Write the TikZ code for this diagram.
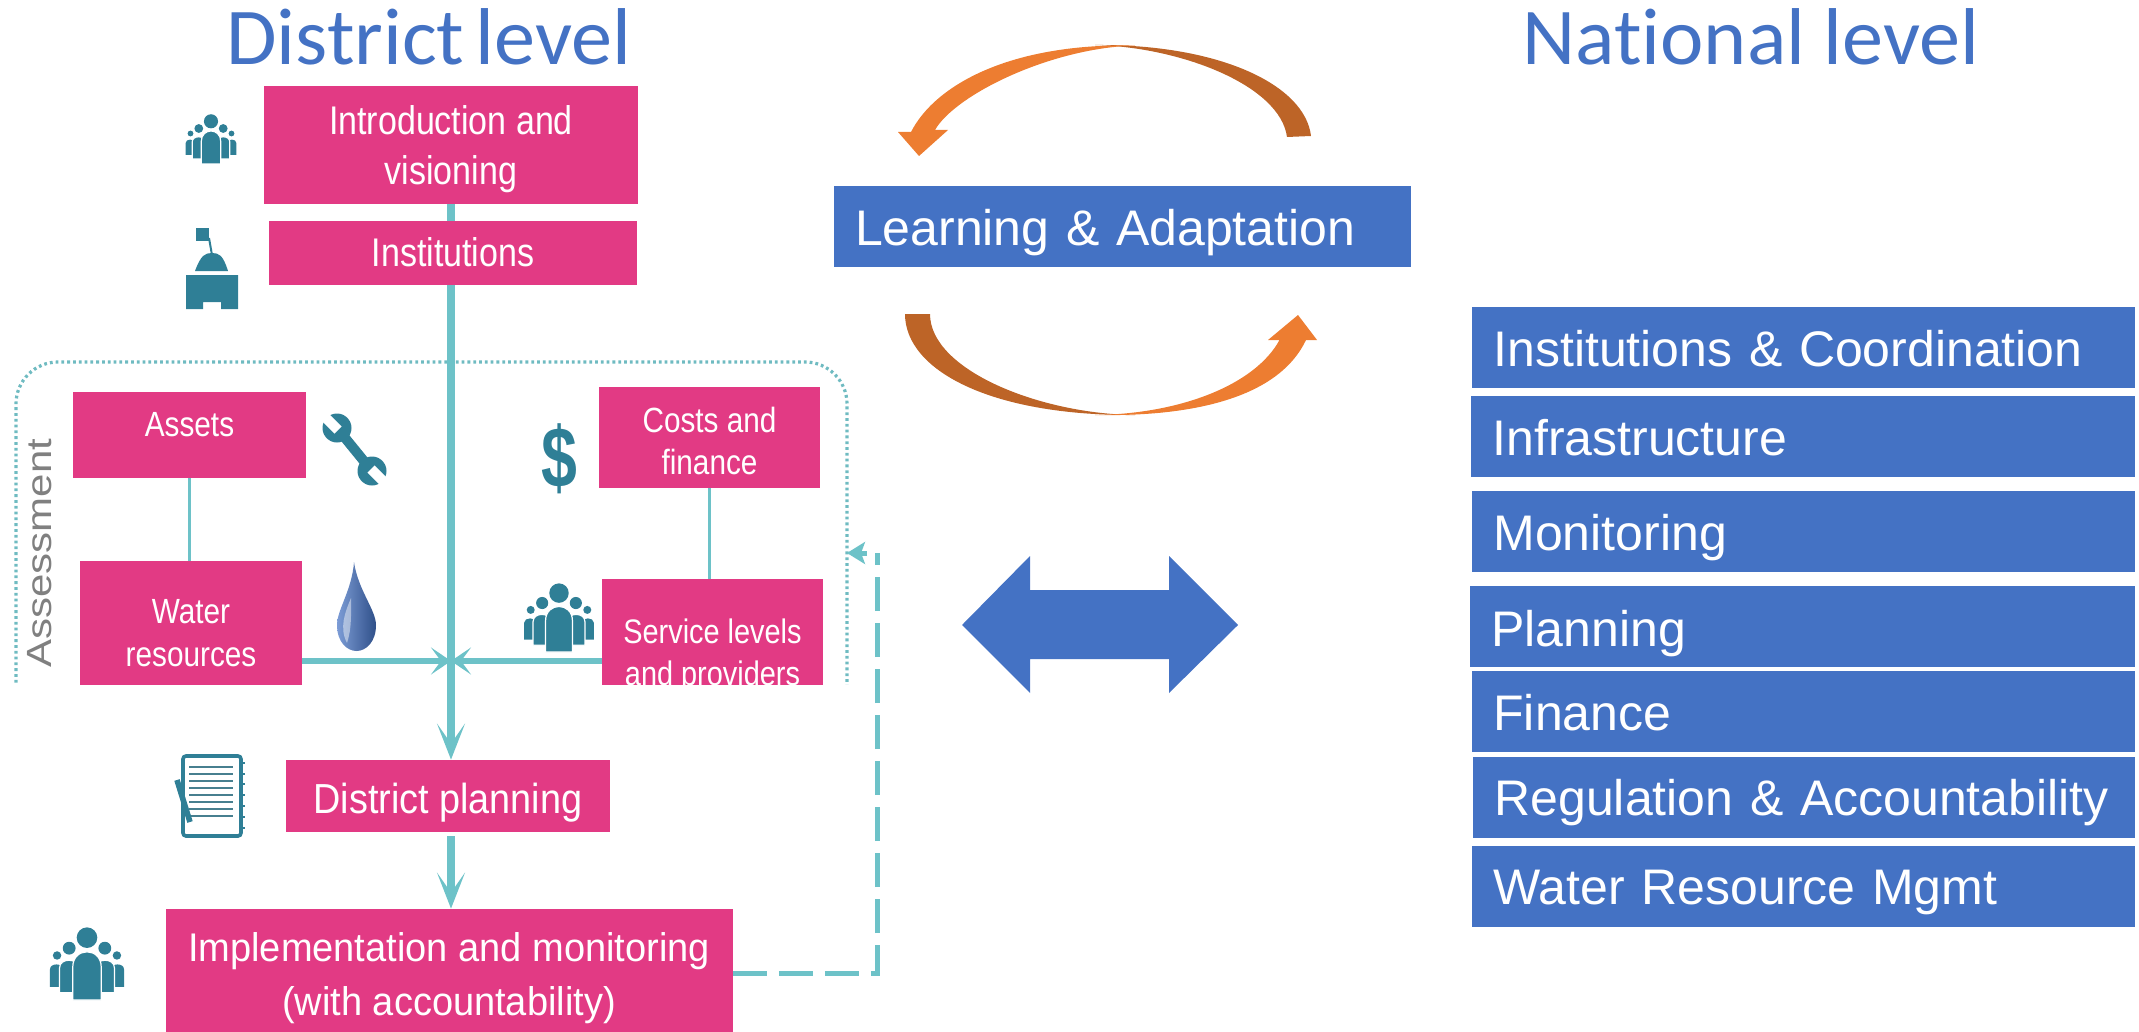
\documentclass[tikz,border=0pt]{standalone}
\usepackage{fontspec}
\usetikzlibrary{arrows.meta}
\setmainfont{Liberation Sans}
\newfontfamily\titlefont[Ligatures=NoCommon,FakeStretch=1.02]{Carlito}
\newfontfamily\pinknarrow[FakeStretch=0.85]{Liberation Sans}
\newfontfamily\pinkmid[FakeStretch=0.9]{Liberation Sans}
\newfontfamily\pinkwide[FakeStretch=0.95]{Liberation Sans}
\newfontfamily\sidefont[FakeStretch=1.2]{Liberation Sans}
\newfontfamily\dollarfont[FakeStretch=0.75]{Liberation Sans Bold}
\definecolor{pinkfill}{HTML}{E23A84}
\definecolor{bluefill}{HTML}{4472C4}
\definecolor{stemcol}{HTML}{6DC2C8}
\definecolor{iconcol}{HTML}{2F7F96}
\definecolor{orangecol}{HTML}{ED7D31}
\definecolor{browncol}{HTML}{BD6427}
\tikzset{people/.pic={
    \foreach \s in {-1,1}{
        \fill[iconcol] (\s*.41,.39) circle (.058);
        \fill[iconcol] (\s*.507,.82) -- (\s*.507,.58) .. controls (\s*.507,.49) and (\s*.33,.49) .. (\s*.33,.58) -- (\s*.33,.82) -- cycle;
        \fill[iconcol] (\s*.244,.29) circle (.088);
        \filldraw[iconcol,draw=white,line width=.6pt] (\s*.376,.9) -- (\s*.376,.56) .. controls (\s*.376,.42) and (\s*.12,.42) .. (\s*.12,.56) -- (\s*.12,.9) -- cycle;
    }
    \fill[iconcol] (0,.146) circle (.141);
    \filldraw[iconcol,draw=white,line width=.6pt] (-.195,1) -- (-.195,.55) .. controls (-.195,.27) and (.195,.27) .. (.195,.55) -- (.195,1) -- cycle;
}}

\begin{document}
\begin{tikzpicture}[x=0.5pt,y=-0.5pt]
    \tikzstyle{pinkbox} = [rectangle, fill=pinkfill, text=white, inner sep=0pt, align=center]
    \tikzstyle{bluebox} = [rectangle, fill=bluefill, text=white, inner ysep=0pt, inner xsep=10.5pt, align=left, font=\fontsize{25}{30}\selectfont]
    \tikzstyle{title} = [anchor=base west, inner sep=0pt, text=bluefill, font=\titlefont\fontsize{40.3}{48}\selectfont]
    \tikzstyle{stem} = [draw=stemcol, line width=1.8pt]
    \tikzstyle{mainstem} = [draw=stemcol, line width=3.6pt]
    \tikzstyle{downtip} = [-{Stealth[length=18pt,width=14pt,inset=10pt]}]
    \tikzstyle{sidetip} = [-{Stealth[length=10pt,width=13.5pt,inset=5pt]}]
    \tikzstyle{backarrow} = [-{Stealth[length=9pt,width=11pt,inset=2pt]}]
    \tikzstyle{dotframe} = [draw=stemcol!90!gray, line width=1.6pt, dash pattern=on 1.4pt off 1.5pt, rounded corners=21pt]
    \tikzstyle{feedback} = [draw=stemcol, line width=2.5pt, dash pattern=on 17pt off 6pt]

    \useasboundingbox (0,0) rectangle (2139,1032);
    \clip (0,0) rectangle (2139,1032);

    %%% TITLES
    \node[title] (district) at (226,65) {District\hspace{-3.5pt} level};
    \node[title] (national) at (1522,65) {National level};

    %%% ASSESSMENT FRAME, cut off at its bottom edge
    \begin{scope}
        \clip (0,340) rectangle (880,684);
        \draw[dotframe] (16,700) -- (16,362) -- (847,362) -- (847,700);
        \node[rotate=90, anchor=base west, inner sep=0pt, text=black!50, font=\sidefont\fontsize{17.5}{20}\selectfont] (assess) at (51,668) {Assessment};
        \node[pinkbox, minimum width=111pt, minimum height=72pt, font=\pinknarrow\fontsize{17.5}{21.5}\selectfont] (water) at (191,633) {Water\\resources};
        \node[pinkbox, minimum width=110.5pt, minimum height=74pt, font=\pinknarrow\fontsize{17}{21}\selectfont] (service) at (712.5,653) {\rule{0pt}{15pt}Service levels\\and providers};
    \end{scope}

    %%% DRAW THE NODES
    \node[pinkbox, minimum width=187pt, minimum height=59pt, font=\pinknarrow\fontsize{20}{25}\selectfont] (intro) at (451,145) {\rule{0pt}{18.5pt}Introduction and\\visioning};
    \node[pinkbox, minimum width=184pt, minimum height=32pt, text height=16pt, text depth=3pt, font=\pinknarrow\fontsize{20}{25}\selectfont] (inst) at (453,253) {Institutions};
    \node[pinkbox, minimum width=116.5pt, minimum height=43pt, text height=12pt, text depth=11pt, font=\pinknarrow\fontsize{17.5}{21}\selectfont] (assets) at (189.5,435) {Assets};
    \node[pinkbox, minimum width=110.5pt, minimum height=50.5pt, font=\pinknarrow\fontsize{17.5}{21}\selectfont] (costs) at (709.5,437.5) {\rule{0pt}{16pt}Costs and\\finance};
    \node[pinkbox, minimum width=162pt, minimum height=36pt, text height=20pt, text depth=3pt, font=\pinkmid\fontsize{21}{25}\selectfont] (dplan) at (448,796) {District planning};
    \node[pinkbox, minimum width=283.5pt, minimum height=69pt, font=\pinkwide\fontsize{20}{27}\selectfont] (impl) at (449,978) {Implementation and monitoring\\(with accountability)};
    \coordinate (join) at (451,661);
    \coordinate (corner) at (877,553);
    \coordinate (backtip) at (847,553);

    \node[bluebox, minimum width=288.5pt, minimum height=40.5pt, text width=267.5pt, text height=24pt, text depth=5.5pt] (learn) at (1122.5,226.5) {Learning \& Adaptation};
    \foreach \name / \xl / \yt / \yb / \bl / \txt in {
        natinst/1472/307/388/366/Institutions \& Coordination,
        infra/1471/396/477/455/Infrastructure,
        monit/1472/491/572/550/Monitoring,
        plann/1470/586/667/646/Planning,
        finan/1472/671/752/730/Finance,
        regul/1473/757/838/815/Regulation \& Accountability,
        wrm/1472/846/927/904/Water Resource Mgmt}{
        \pgfmathsetmacro{\boxw}{(2135-\xl)/2}
        \pgfmathsetmacro{\boxh}{(\yb-\yt)/2}
        \pgfmathsetmacro{\cy}{(\yt+\yb)/2}
        \pgfmathsetmacro{\dd}{24-(\bl-\cy)}
        \node[bluebox, anchor=west, minimum width=\boxw pt, minimum height=\boxh pt, text width=\boxw pt-21pt, text height=24pt, text depth=\dd pt] (\name) at (\xl,\cy) {\txt};
    }

    %%% DRAW THE PATHS
    \path[mainstem] (intro.south) -- (intro.south |- inst.north);
    \path[mainstem, downtip] (inst.south -| intro.south) -- (dplan.north -| intro.south);
    \path[mainstem, downtip, shorten <=2pt] (dplan.south -| intro.south) -- (impl.north -| intro.south);
    \path[stem] (assets.south) -- (assets.south |- water.north);
    \path[stem] (costs.south) -- (costs.south |- service.north);
    \path[stem, line width=2.6pt, sidetip] (water.east |- join) -- (join);
    \path[stem, line width=2.6pt, sidetip] (service.west |- join) -- (join);
    \path[feedback] (impl.east |- 0,973) -| (corner);
    \path[draw=stemcol, line width=2.5pt, backarrow, shorten <=5pt] (corner) -- (backtip);

    %%% LOOP ARROWS
    \fill[browncol] (1311,136) .. controls (1305,85) and (1220,44) .. (1095,45) .. controls (1180,47) and (1280,85) .. (1287,137) -- cycle;
    \fill[orangecol] (1135,45.5) .. controls (1010,43) and (935,85) .. (911,132) -- (898,132) -- (919,156) -- (948,130) -- (935,130) .. controls (955,95) and (1050,48) .. (1135,45.5) -- cycle;
    \fill[browncol] (905,314) .. controls (905,370) and (990,416) .. (1135,415) .. controls (1040,414) and (930,370) .. (930,314) -- cycle;
    \fill[orangecol] (1095,415) .. controls (1180,414) and (1255,385) .. (1279.5,340) -- (1268,340) -- (1298,315) -- (1317,340) -- (1306,340) .. controls (1280,395) and (1200,417) .. (1095,415) -- cycle;
    \fill[bluefill] (962,625) -- (1030,556) -- (1030,590) -- (1169,590) -- (1169,556) -- (1238,625) -- (1169,693) -- (1169,659) -- (1030,659) -- (1030,693) -- cycle;

    %%% ICONS
    \pic[scale=50] (folkintro) at (211,114) {people};
    \pic[scale=69] (folkservice) at (559,583) {people};
    \pic[scale=73] (folkimpl) at (87,927) {people};

    % building
    \fill[iconcol] (196,228) rectangle (209,241);
    \draw[iconcol, line width=1pt] (209,238) -- (212,255);
    \fill[iconcol] (195,271) .. controls (201,255) and (205,253) .. (212,253) .. controls (219,253) and (223,255) .. (228,271) -- cycle;
    \fill[iconcol] (186,275) -- (238,275) -- (238,309) -- (221,309) -- (221,302) -- (203,302) -- (203,309) -- (186,309) -- cycle;

    % wrench
    \draw[iconcol, line width=5pt] (337,428) -- (372,471);
    \fill[iconcol] (337,428) circle (14.5);
    \fill[iconcol] (372,471) circle (14.5);
    \draw[white, line width=5pt] (338,430) -- (320,412);
    \draw[white, line width=5pt] (371,469) -- (389,487);

    % dollar
    \node[inner sep=0pt, text=iconcol, font=\dollarfont\fontsize{43}{50}\selectfont] (dollar) at (559,459) {\$};

    % drop
    \shade[left color=bluefill!70, right color=bluefill!70!black] (354,562) .. controls (352,590) and (337,610) .. (337,625) .. controls (337,642) and (347,651) .. (356.5,651) .. controls (366,651) and (376,642) .. (376,625) .. controls (376,610) and (358,590) .. (354,562) -- cycle;
    \fill[white, opacity=.45] (351,598) .. controls (345,612) and (339,628) .. (347,643) .. controls (352,628) and (351,612) .. (351,598) -- cycle;

    % notebook
    \draw[iconcol, line width=1.8pt, rounded corners=1.5pt] (183,756) rectangle (241,836);
    \foreach \y in {767,774,781,788,795,802,809,816}
        \draw[iconcol!70!gray, line width=1pt] (189,\y) -- (233,\y);
    \foreach \y in {763,774,784,795,806,817,828}
        \draw[iconcol, line width=1.4pt] (241,\y) -- (245,\y);
    \draw[iconcol, line width=2.8pt] (177,780) -- (190,822);
\end{tikzpicture}
\end{document}
